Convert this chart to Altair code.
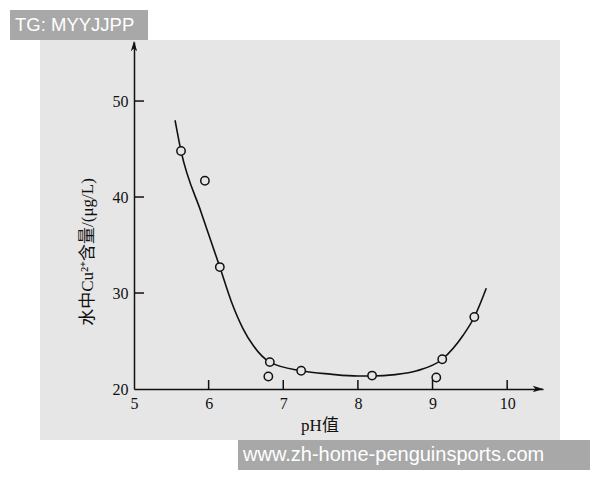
import altair as alt
import pandas as pd

# measured points
ph_pts = [5.63, 5.95, 6.15, 6.82, 6.80, 7.24, 8.19, 9.05, 9.13, 9.56]
cu_pts = [44.8, 41.7, 32.7, 22.8, 21.3, 21.9, 21.4, 21.2, 23.1, 27.5]

# fitted curve
ph_curve = [5.55, 5.63, 5.90, 6.15, 6.30, 6.46, 6.60, 6.82, 7.24, 7.63, 8.00, 8.19, 8.50, 8.79, 9.13, 9.41, 9.56, 9.72]
cu_curve = [48.0, 44.8, 38.4, 32.7, 29.2, 26.3, 24.5, 22.8, 21.9, 21.55, 21.35, 21.35, 21.5, 21.9, 23.1, 25.6, 27.5, 30.5]

x_ticks = [6, 7, 8, 9, 10]
y_ticks = [30, 40, 50]
x_labels = [5, 6, 7, 8, 9, 10]
y_labels = [20, 30, 40, 50]

W, H = 409, 347
SERIF = "Liberation Serif, Noto Sans CJK SC"
BG = "#e6e6e6"
INK = "#111111"

pts = pd.DataFrame({"ph": ph_pts, "cu": cu_pts})
curve = pd.DataFrame({"ph": ph_curve, "cu": cu_curve})
xt = pd.DataFrame({"v": x_ticks})
yt = pd.DataFrame({"v": y_ticks})
one = pd.DataFrame({"a": [0]})

xs = alt.Scale(domain=[5, 10.48], nice=False, zero=False)
ys = alt.Scale(domain=[20, 56.15], nice=False, zero=False)

bg = alt.Chart(one).mark_rect(color=BG).encode(
    x=alt.value(-94), x2=alt.value(426), y=alt.value(-2), y2=alt.value(398)
)

wm1 = alt.Chart(one).mark_rect(color="#a8a8a8").encode(
    x=alt.value(-124), x2=alt.value(14), y=alt.value(-32), y2=alt.value(-2)
)
wm1t = alt.Chart(one).mark_text(
    text="TG: MYYJJPP", color="white", font="Liberation Sans", fontSize=18.5,
    align="left", baseline="middle"
).encode(x=alt.value(-119), y=alt.value(-17))

wm2 = alt.Chart(one).mark_rect(color="#a8a8a8").encode(
    x=alt.value(104), x2=alt.value(456), y=alt.value(398), y2=alt.value(428)
)
wm2t = alt.Chart(one).mark_text(
    text="www.zh-home-penguinsports.com", color="white", font="Liberation Sans",
    fontSize=20, align="left", baseline="middle"
).encode(x=alt.value(109), y=alt.value(413))

line = alt.Chart(curve).mark_line(
    color=INK, strokeWidth=1.6, interpolate="monotone"
).encode(
    x=alt.X("ph:Q", scale=xs,
            axis=alt.Axis(values=x_labels, format="d", title=None, ticks=False, tickSize=0,
                          grid=False, domainColor=INK, domainWidth=1.5,
                          labelFont=SERIF, labelFontSize=16, labelColor=INK,
                          labelPadding=6, labelFlush=False, zindex=1)),
    y=alt.Y("cu:Q", scale=ys,
            axis=alt.Axis(values=y_labels, format="d", title=None, ticks=False, tickSize=0,
                          grid=False, domainColor=INK, domainWidth=1.5,
                          labelFont=SERIF, labelFontSize=16, labelColor=INK,
                          labelPadding=6, labelFlush=False, zindex=1)),
    order="ph:Q",
)

points = alt.Chart(pts).mark_point(
    shape="circle", filled=True, fill=BG, stroke=INK, strokeWidth=1.5, size=70, opacity=1
).encode(x=alt.X("ph:Q", scale=xs), y=alt.Y("cu:Q", scale=ys))

xtick = alt.Chart(xt).mark_rule(color=INK, strokeWidth=1.5).encode(
    x=alt.X("v:Q", scale=xs), y=alt.value(H - 9), y2=alt.value(H)
)
ytick = alt.Chart(yt).mark_rule(color=INK, strokeWidth=1.5).encode(
    y=alt.Y("v:Q", scale=ys), x=alt.value(0), x2=alt.value(10)
)

arrow_x = alt.Chart(one).mark_point(
    shape="M1,0 L-1,-0.6 L-0.5,0 L-1,0.6 Z", filled=True, color=INK, size=110, opacity=1
).encode(x=alt.value(W - 5), y=alt.value(H))
arrow_y = alt.Chart(one).mark_point(
    shape="M0,-1 L0.6,1 L0,0.5 L-0.6,1 Z", filled=True, color=INK, size=110, opacity=1
).encode(x=alt.value(0), y=alt.value(4))

ytitle = alt.Chart(one).mark_text(
    text="水中Cu²⁺含量/(μg/L)", font=SERIF, fontSize=17, color=INK, angle=270,
    align="center", baseline="middle"
).encode(x=alt.value(-46), y=alt.value(210))
xtitle = alt.Chart(one).mark_text(
    text="pH值", font=SERIF, fontSize=17, color=INK,
    align="center", baseline="middle"
).encode(x=alt.value(186), y=alt.value(384))

chart = alt.layer(
    bg, wm1, wm1t, wm2, wm2t, xtick, ytick, line, points, arrow_x, arrow_y, ytitle, xtitle
).properties(
    width=W, height=H,
    autosize=alt.AutoSizeParams(type="none"),
    padding={"left": 134, "top": 42, "right": 57, "bottom": 91},
).configure(background="white").configure_view(stroke=None)

chart.save("out.html", embed_options={"renderer": "svg", "actions": False})
